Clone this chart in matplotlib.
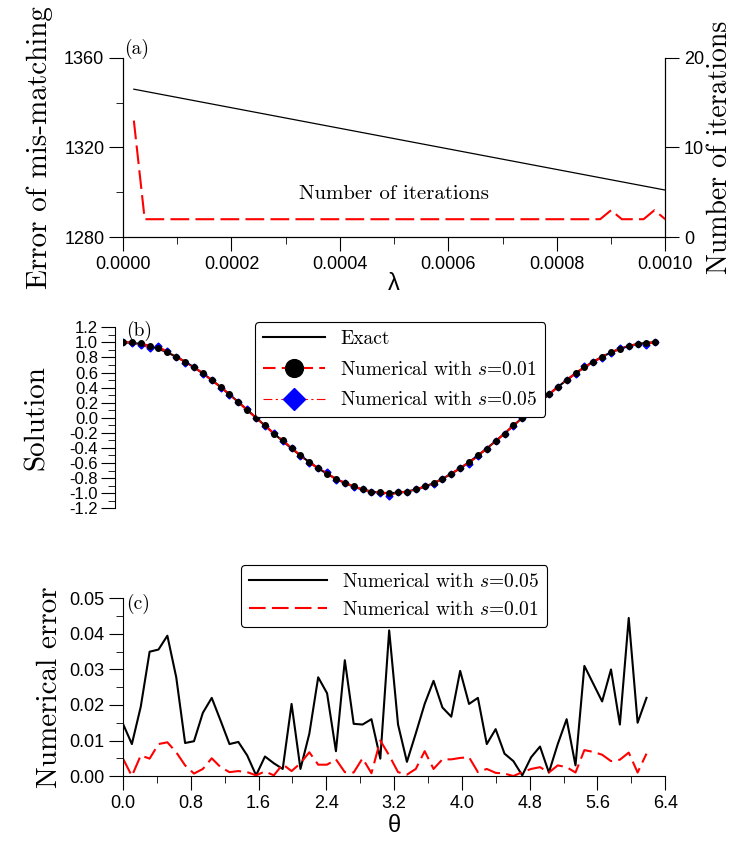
import matplotlib.pyplot as plt
from matplotlib.ticker import MultipleLocator

plt.rcParams['font.family'] = ['Liberation Sans', 'DejaVu Sans']
plt.rcParams['mathtext.fontset'] = 'cm'
plt.rcParams['axes.unicode_minus'] = False

# panel (a)
lam = [i * 0.00002 for i in range(1, 51)]
mismatch_end = [1346, 1301]
lam_end = [0.00002, 0.001]
iters = [13] + [2] * 43 + [3, 2, 2, 2, 3, 2]

# panel (b) and (c)
theta_b = [i * 0.10472 for i in range(61)]
exact = [1.000, 0.995, 0.978, 0.951, 0.914, 0.866, 0.809, 0.743, 0.669, 0.588,
         0.500, 0.407, 0.309, 0.208, 0.105, 0.000, -0.105, -0.208, -0.309, -0.407,
         -0.500, -0.588, -0.669, -0.743, -0.809, -0.866, -0.914, -0.951, -0.978, -0.995,
         -1.000, -0.995, -0.978, -0.951, -0.914, -0.866, -0.809, -0.743, -0.669, -0.588,
         -0.500, -0.407, -0.309, -0.208, -0.105, 0.000, 0.105, 0.208, 0.309, 0.407,
         0.500, 0.588, 0.669, 0.743, 0.809, 0.866, 0.914, 0.951, 0.978, 0.995, 1.000]
num01 = [1.00, 1.00, 0.99, 0.95, 0.93, 0.87, 0.81, 0.74, 0.67, 0.59,
         0.50, 0.41, 0.31, 0.21, 0.10, 0.00, -0.10, -0.21, -0.30, -0.40,
         -0.50, -0.59, -0.67, -0.74, -0.81, -0.86, -0.91, -0.95, -0.98, -0.99,
         -1.00, -0.99, -0.98, -0.95, -0.91, -0.87, -0.81, -0.74, -0.67, -0.59,
         -0.50, -0.41, -0.31, -0.21, -0.10, 0.00, 0.10, 0.21, 0.31, 0.41,
         0.50, 0.59, 0.67, 0.74, 0.81, 0.87, 0.91, 0.95, 0.98, 0.99, 1.00]
num05 = [1.01, 0.99, 0.97, 0.92, 0.95, 0.88, 0.81, 0.73, 0.67, 0.58,
         0.50, 0.40, 0.30, 0.21, 0.11, 0.00, -0.11, -0.20, -0.31, -0.40,
         -0.51, -0.60, -0.67, -0.72, -0.83, -0.86, -0.92, -0.95, -0.98, -1.00,
         -1.04, -0.99, -0.98, -0.95, -0.90, -0.88, -0.81, -0.74, -0.66, -0.61,
         -0.51, -0.41, -0.31, -0.21, -0.11, 0.00, 0.11, 0.20, 0.32, 0.41,
         0.50, 0.58, 0.68, 0.74, 0.79, 0.86, 0.93, 0.95, 0.98, 0.97, 1.00]

theta_c = [i * 0.10472 for i in range(60)]
err05 = [0.0147, 0.0090, 0.0195, 0.0350, 0.0356, 0.0395, 0.0278, 0.0093, 0.0098, 0.0178,
         0.0220, 0.0156, 0.0090, 0.0096, 0.0058, 0.0002, 0.0055, 0.0036, 0.0020, 0.0203,
         0.0020, 0.0119, 0.0278, 0.0233, 0.0070, 0.0326, 0.0147, 0.0145, 0.0160, 0.0049,
         0.0410, 0.0145, 0.0040, 0.0120, 0.0203, 0.0268, 0.0193, 0.0167, 0.0296, 0.0203,
         0.0220, 0.0090, 0.0132, 0.0063, 0.0042, 0.0002, 0.0053, 0.0083, 0.0010, 0.0090,
         0.0160, 0.0030, 0.0310, 0.0260, 0.0210, 0.0300, 0.0145, 0.0445, 0.0150, 0.0220]
err01 = [0.0049, 0.0000, 0.0058, 0.0049, 0.0090, 0.0095, 0.0067, 0.0030, 0.0007, 0.0020,
         0.0050, 0.0025, 0.0011, 0.0014, 0.0011, 0.0002, 0.0013, 0.0002, 0.0033, 0.0014,
         0.0036, 0.0067, 0.0032, 0.0032, 0.0047, 0.0011, 0.0010, 0.0050, 0.0008, 0.0100,
         0.0058, 0.0011, 0.0004, 0.0020, 0.0070, 0.0020, 0.0047, 0.0047, 0.0051, 0.0053,
         0.0011, 0.0020, 0.0009, 0.0007, 0.0000, 0.0011, 0.0020, 0.0025, 0.0010, 0.0030,
         0.0025, 0.0010, 0.0073, 0.0068, 0.0060, 0.0042, 0.0046, 0.0066, 0.0010, 0.0063]

fig = plt.figure(figsize=(7.5, 8.5), dpi=100)
CM = 'cmr10'
lab01 = r'Numerical with $s$=0.01'
lab05 = r'Numerical with $s$=0.05'

# ---- (a)
ax = fig.add_axes([0.164, 0.721, 0.723, 0.211])
ax.plot(lam_end, mismatch_end, color='black', lw=0.9)
ax.set_xlim(0, 0.001)
ax.set_ylim(1280, 1360)
ax.yaxis.set_major_locator(MultipleLocator(40))
ax.yaxis.set_minor_locator(MultipleLocator(20))
ax.xaxis.set_major_locator(MultipleLocator(0.0002))
ax.xaxis.set_minor_locator(MultipleLocator(0.0001))
ax.xaxis.set_major_formatter(plt.FuncFormatter(lambda v, p: f'{v:.4f}'))
ax.spines['top'].set_visible(False)
ax.set_ylabel('Error of mis-matching', fontsize=21, family=CM, labelpad=8)
ax.set_xlabel('λ', fontsize=17, labelpad=0)
ax.text(0.002, 1.02, '(a)', transform=ax.transAxes, fontsize=14, family=CM)
ax.text(0.0005, 1297, 'Number of iterations', fontsize=15, ha='center', family=CM)
ax.tick_params(which='major', length=10, labelsize=13, direction='out')
ax.tick_params(which='minor', length=5)
ax2 = ax.twinx()
ax2.plot(lam, iters, color='red', lw=1.5, dashes=(9, 3))
ax2.set_ylim(0, 20)
ax2.yaxis.set_major_locator(MultipleLocator(10))
ax2.spines['top'].set_visible(False)
ax2.set_ylabel('Number of iterations', fontsize=20, family=CM, labelpad=2)
ax2.tick_params(length=10, labelsize=13)

# ---- (b)
bx = fig.add_axes([0.164, 0.402, 0.723, 0.213])
le, = bx.plot(theta_b, exact, color='black', lw=1.5)
l05, = bx.plot(theta_b, num05, color='red', lw=0.8, dashes=(8, 3, 2, 3),
               marker='D', ms=3.5, mfc='blue', mec='blue')
l01, = bx.plot(theta_b, num01, color='red', lw=1.5, dashes=(6, 3),
               marker='o', ms=4, mfc='black', mec='black')
bx.set_xlim(0, 6.4)
bx.set_ylim(-1.2, 1.2)
bx.yaxis.set_major_locator(MultipleLocator(0.2))
bx.yaxis.set_minor_locator(MultipleLocator(0.1))
bx.yaxis.set_major_formatter(plt.FuncFormatter(lambda v, p: f'{v:.1f}'))
for s in ['top', 'right', 'bottom']:
    bx.spines[s].set_visible(False)
bx.spines['left'].set_position(('outward', 6))
bx.set_xticks([])
bx.tick_params(which='major', length=10, labelsize=12, pad=2)
bx.tick_params(which='minor', length=5)
bx.set_ylabel('Solution', fontsize=21, family=CM, labelpad=14)
bx.text(0.005, 0.95, '(b)', transform=bx.transAxes, fontsize=14, family=CM)
leg = bx.legend([le, l01, l05], ['Exact', lab01, lab05],
                loc='upper left', bbox_to_anchor=(0.225, 1.08),
                prop={'family': CM, 'size': 14},
                markerscale=3.2, handlelength=3.2, labelspacing=0.65,
                fancybox=True, edgecolor='black', framealpha=1)
leg.get_frame().set_linewidth(0.8)

# ---- (c)
cx = fig.add_axes([0.164, 0.087, 0.723, 0.209])
c05, = cx.plot(theta_c, err05, color='black', lw=1.5)
c01, = cx.plot(theta_c, err01, color='red', lw=1.5, dashes=(8, 3))
cx.set_xlim(0, 6.4)
cx.set_ylim(0, 0.05)
cx.xaxis.set_major_locator(MultipleLocator(0.8))
cx.xaxis.set_minor_locator(MultipleLocator(0.4))
cx.xaxis.set_major_formatter(plt.FuncFormatter(lambda v, p: f'{v:.1f}'))
cx.yaxis.set_major_locator(MultipleLocator(0.01))
cx.yaxis.set_minor_locator(MultipleLocator(0.005))
cx.yaxis.set_major_formatter(plt.FuncFormatter(lambda v, p: f'{v:.2f}'))
cx.spines['top'].set_visible(False)
cx.spines['right'].set_visible(False)
cx.tick_params(which='major', length=10, labelsize=13)
cx.tick_params(which='minor', length=5)
cx.set_ylabel('Numerical error', fontsize=21, family=CM)
cx.set_xlabel('θ', fontsize=17, labelpad=2)
cx.text(0.005, 0.94, '(c)', transform=cx.transAxes, fontsize=14, family=CM)
leg2 = cx.legend([c05, c01], [lab05, lab01],
                 loc='upper left', bbox_to_anchor=(0.2, 1.24),
                 prop={'family': CM, 'size': 14},
                 handlelength=4.0, labelspacing=0.5, fancybox=True,
                 edgecolor='black', framealpha=1)
leg2.get_frame().set_linewidth(0.8)

fig.savefig('out.png', dpi=100)
